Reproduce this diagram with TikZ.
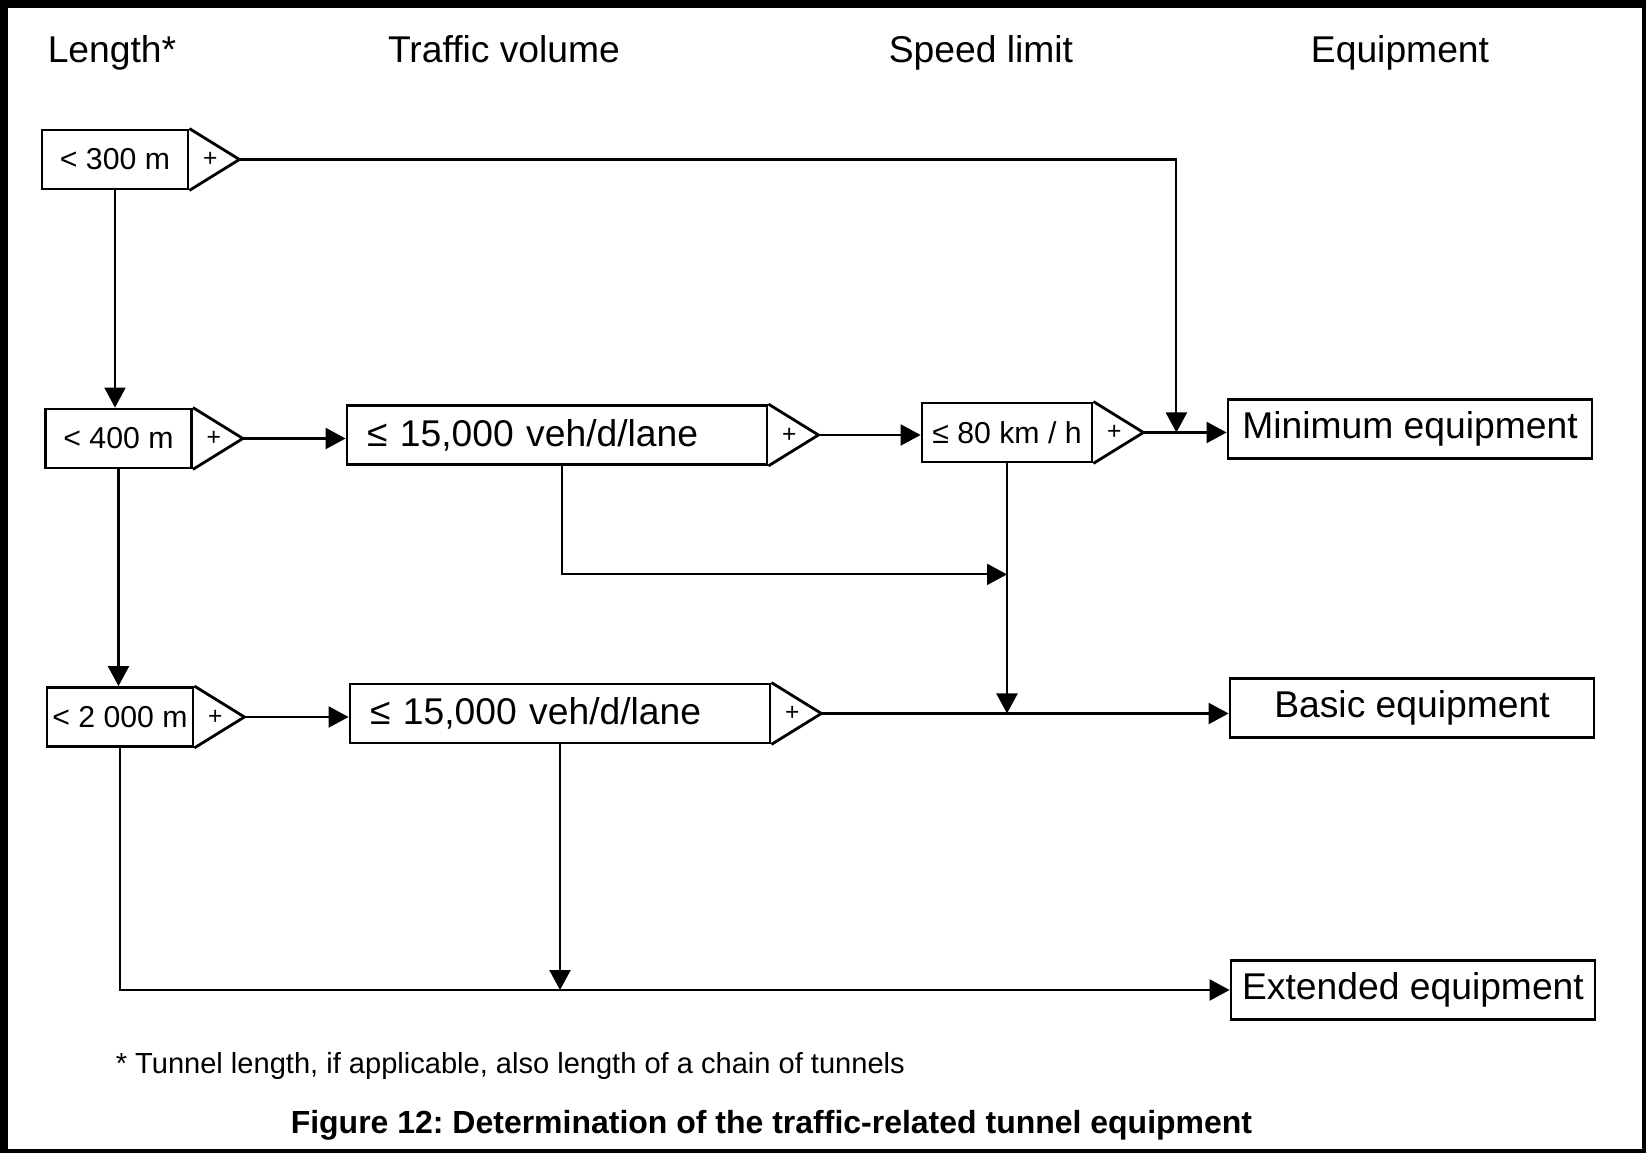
\documentclass[tikz,border=0pt]{standalone}
\usepackage{fontspec}
\setmainfont{Liberation Sans}
\usepackage{tikz}
\usetikzlibrary{arrows.meta, calc, positioning}
\frenchspacing

\tikzset{
  cond/.style={draw, line width=0.8pt, minimum height=0.59cm, inner sep=0pt},
  lenbox/.style={cond, minimum width=1.46cm, font=\fontsize{8.6}{10}\selectfont},
  volbox/.style={cond, text width=3.8cm, inner xsep=0.2cm, align=left, font=\fontsize{10.6}{12}\selectfont},
  spdbox/.style={cond, minimum width=1.70cm, font=\fontsize{8.6}{10}\selectfont},
  eqbox/.style={cond, minimum width=3.64cm, font=\fontsize{10.6}{12}\selectfont},
  head/.style={anchor=base, font=\fontsize{10.6}{12}\selectfont},
  plus/.style={font=\fontsize{7}{8}\selectfont, inner sep=0pt}
}

\begin{document}
\begin{tikzpicture}[>={Triangle[length=0.2cm, width=0.21cm]}, line width=0.6pt]
  % frame
  \fill[black] (0,0) rectangle (16.46,-11.53);
  \fill[white] (0.08,-0.08) rectangle (16.42,-11.49);

  % column headings
  \node[head] (hlen) at (1.12,-0.63) {Length*};
  \node[head] (hvol) at (5.04,-0.63) {Traffic volume};
  \node[head] (hspd) at (9.81,-0.63) {Speed limit};
  \node[head] (heq) at (14.00,-0.63) {Equipment};

  % conditions
  \node[lenbox] (l300) at (1.15,-1.595) {< 300 m};
  \node[lenbox] (l400) at (1.185,-4.385) {< 400 m};
  \node[lenbox] (l2000) at (1.20,-7.17) {< 2 000 m};
  \node[volbox] (v1) at (5.57,-4.35) {≤ 15,000 veh/d/lane};
  \node[volbox] (v2) at (5.60,-7.135) {≤ 15,000 veh/d/lane};
  \node[spdbox] (s80) at (10.07,-4.325) {≤ 80 km / h};

  % results
  \node[eqbox] (eqmin) at (14.10,-4.29) {Minimum equipment};
  \node[eqbox] (eqbasic) at (14.12,-7.08) {Basic equipment};
  \node[eqbox] (eqext) at (14.13,-9.90) {Extended equipment};

  % arrow ends with +
  \foreach \n in {l300, l400, l2000, v1, v2, s80} {
    \draw[line width=0.8pt] (\n.north east) -- ($(\n.east)+(0.5,0)$) coordinate (\n-tip) -- (\n.south east);
    \node[plus] (\n-plus) at ($(\n.east)+(0.21,0)$) {+};
  }

  \coordinate (minjoin) at ($(s80-tip)+(0.33,0)$);
  \coordinate (merge) at ($(s80.south)+(0,-1.11)$);
  \coordinate (v1out) at ($(v1.south)+(0.05,0)$);

  \draw[->] (l300.south) -- (l300.south |- l400.north);
  \draw[->] (l400.south) -- (l400.south |- l2000.north);
  \draw[->] (l300-tip) -| (minjoin);
  \draw[->] (l400-tip) -- (l400-tip -| v1.west);
  \draw[->] (l2000-tip) -- (l2000-tip -| v2.west);
  \draw[->] (v1-tip) -- (v1-tip -| s80.west);
  \draw[->] (s80-tip) -- (s80-tip -| eqmin.west);
  \draw[->] (v1out) |- (merge);
  \draw[->] (s80.south) -- (s80.south |- v2-tip);
  \draw[->] (v2-tip) -- (v2-tip -| eqbasic.west);
  \draw[->] (v2.south) -- (v2.south |- eqext.west);
  \draw[->] (l2000.south) |- (eqext.west);

  % notes
  \node[anchor=base west, font=\fontsize{8.27}{10}\selectfont] (note) at (1.03,-10.73) {* Tunnel length, if applicable, also length of a chain of tunnels};
  \node[anchor=base west, font=\bfseries\fontsize{9.1}{11}\selectfont] (caption) at (2.78,-11.33) {Figure 12: Determination of the traffic-related tunnel equipment};
\end{tikzpicture}
\end{document}
